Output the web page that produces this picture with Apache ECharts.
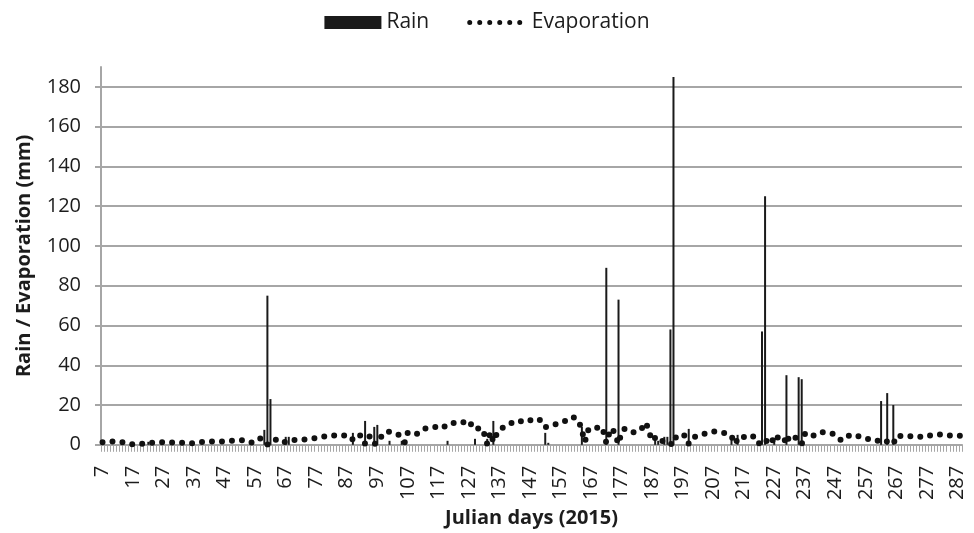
<!DOCTYPE html>
<html>
<head>
<meta charset="utf-8">
<script src="https://cdn.jsdelivr.net/npm/echarts@6/dist/echarts.min.js"></script>
<style>
html,body{margin:0;padding:0;background:#fff;}
#chart{width:974px;height:533px;}
</style>
</head>
<body>
<div id="chart"></div>
<script>
// Julian days 7..288 (category axis)
var firstDay = 7, lastDay = 288;
var days = [];
for (var d = firstDay; d <= lastDay; d++) days.push(String(d));

// Rain (mm) on the days it rained
var rainDays = [22, 33, 60, 61, 62, 67, 68, 89, 93, 96, 97, 101, 105, 120, 129, 133, 135, 152, 153, 164,
  172, 176, 188, 189, 191, 192, 193, 194, 199, 213, 215, 223, 224, 227, 231, 235, 236, 262, 264, 266];
var rainMm = [1.5, 1, 7.5, 75, 23, 4, 4, 6, 12, 9, 10, 2, 2, 2, 3, 3, 12, 6, 1, 9,
  89, 73, 3.5, 2, 4, 4, 58, 185, 8, 3, 5, 57, 125, 3, 35, 34, 33, 22, 26, 20];

// Daily evaporation (mm), days 7..288
var evaporation = [
  1.3,1.5,1.6,1.7,1.7,1.5,1.3,1.2,0.8,0.4,
  0.2,0.3,0.4,0.5,0.7,0.8,1.0,1.1,1.2,1.3,
  1.3,1.3,1.2,1.2,1.1,1.1,1.0,0.9,0.8,0.8,
  0.9,1.1,1.3,1.4,1.6,1.7,1.7,1.7,1.7,1.7,
  1.8,1.9,2.0,2.1,2.2,2.3,2.3,2.1,1.8,1.0,
  2.0,3.0,3.2,1.0,0.2,0.3,2.0,2.7,2.0,1.0,
  1.5,2.0,2.3,2.4,2.5,2.6,2.7,2.8,3.0,3.2,
  3.4,3.7,4.0,4.3,4.6,4.7,4.6,4.5,4.5,4.6,
  4.7,4.5,2.5,4.5,4.7,4.5,0.5,4.3,4.0,0.5,
  0.8,3.5,5.5,6.7,6.5,6.0,5.6,5.0,3.8,1.2,
  6.3,6.0,5.7,5.5,6.5,7.6,8.4,8.6,8.8,9.0,
  8.8,8.3,9.2,10.2,11.0,11.0,10.8,10.7,11.2,11.8,
  12.2,9.5,7.7,8.2,8.6,5.5,0.3,6.2,1.5,5.0,
  7.5,8.5,9.5,10.3,11.0,11.8,12.2,11.8,11.3,11.8,
  12.3,12.5,12.8,13.0,11.0,8.8,9.5,9.9,10.2,10.5,
  11.0,11.6,12.3,13.2,14.0,13.2,12.0,7.0,1.5,7.3,
  6.8,7.5,8.5,9.3,7.0,1.0,6.0,8.3,4.5,0.5,
  6.2,8.0,8.0,7.0,6.3,6.5,7.3,9.0,11.2,6.5,
  2.0,3.5,4.3,2.5,1.0,1.3,0.5,0.0,4.7,4.7,
  4.7,4.7,0.5,3.0,4.0,4.5,5.0,5.5,6.0,6.5,
  6.7,6.6,6.4,6.2,5.8,5.5,4.5,0.5,2.5,4.5,
  4.0,3.7,4.2,4.5,1.0,0.8,0.0,0.2,3.7,3.5,
  0.8,3.5,4.5,4.0,0.3,4.7,4.0,3.5,1.5,0.3,
  5.5,4.5,3.8,4.8,5.8,6.3,6.3,6.1,6.0,5.6,
  5.0,3.5,2.2,3.0,4.2,5.0,4.8,4.6,4.0,3.4,
  3.0,2.9,2.8,2.8,2.0,1.0,1.5,1.7,1.0,0.3,
  4.5,4.5,4.3,4.2,4.3,4.4,4.5,4.2,4.0,3.8,
  4.2,4.6,5.0,5.1,5.2,5.2,5.0,4.8,4.6,4.5,
  4.5,4.5
];

var rainData = rainDays.map(function (d, i) { return [String(d), rainMm[i]]; });
var evapData = days.map(function (d, i) { return [d, evaporation[i]]; });

var FONT = '"Open Sans", "DejaVu Sans", sans-serif';
var TXT = '#1c1c1c';
var GRAY = '#a6a6a6';

var chart = echarts.init(document.getElementById('chart'), null, {renderer: 'canvas'});
chart.setOption({
  animation: false,
  backgroundColor: '#fff',
  textStyle: {fontFamily: FONT, color: TXT},
  legend: {
    top: 7,
    left: 'center',
    itemWidth: 57,
    itemHeight: 13,
    itemGap: 38,
    textStyle: {fontFamily: FONT, fontSize: 21, color: TXT},
    lineStyle: {width: 5},
    data: [
      {name: 'Rain', icon: 'rect'},
      {name: 'Evaporation',
        itemStyle: {color: 'rgba(255,255,255,0)', borderColor: 'rgba(255,255,255,0)', borderWidth: 0}}
    ]
  },
  grid: {left: 101, right: 12, top: 67, bottom: 87, containLabel: false},
  xAxis: {
    type: 'category',
    data: days,
    boundaryGap: true,
    name: 'Julian days (2015)',
    nameLocation: 'middle',
    nameGap: 63,
    nameTextStyle: {fontFamily: FONT, fontSize: 20, fontWeight: 'bold', color: TXT},
    axisLine: {show: true, lineStyle: {color: GRAY, width: 2}},
    axisTick: {show: true, interval: 0, length: 7, lineStyle: {color: GRAY, width: 1}},
    axisLabel: {interval: 9, rotate: 90, margin: 21, fontSize: 20, color: TXT, fontFamily: FONT},
    splitLine: {show: false}
  },
  yAxis: {
    type: 'value',
    min: 0,
    max: 190,
    interval: 20,
    name: 'Rain / Evaporation (mm)',
    nameLocation: 'middle',
    nameGap: 67,
    nameTextStyle: {fontFamily: FONT, fontSize: 20, fontWeight: 'bold', color: TXT},
    axisLine: {show: true, lineStyle: {color: GRAY, width: 2}},
    axisTick: {show: true, length: 6, lineStyle: {color: GRAY, width: 2}},
    axisLabel: {margin: 20, fontSize: 20, color: TXT, fontFamily: FONT, showMaxLabel: false},
    splitLine: {show: true, showMaxLine: false, lineStyle: {color: GRAY, width: 2}}
  },
  series: [
    {
      name: 'Rain',
      type: 'bar',
      data: rainData,
      barWidth: 2,
      itemStyle: {color: '#1a1a1a'}
    },
    {
      name: 'Evaporation',
      type: 'line',
      data: evapData,
      symbol: 'none',
      showSymbol: false,
      smooth: false,
      z: 3,
      itemStyle: {color: '#111'},
      lineStyle: {color: '#111', width: 6, type: [0, 10], cap: 'round', join: 'round'}
    }
  ]
});
</script>
</body>
</html>
